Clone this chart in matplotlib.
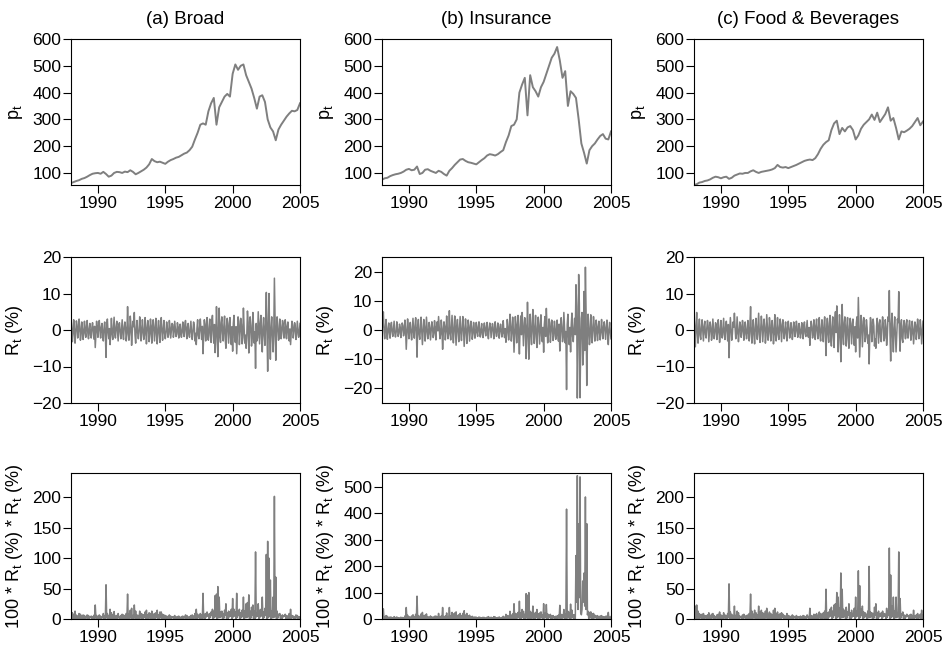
# -*- coding: utf-8 -*-
"""
Prices, returns and squared returns for three sector indices, 1988-2005
"""
import numpy as np
import matplotlib
matplotlib.use("Agg")
from matplotlib import pyplot as plt

plt.rcParams["font.family"] = ["Liberation Sans", "DejaVu Sans"]
plt.rcParams["mathtext.fontset"] = "custom"
plt.rcParams["mathtext.rm"] = "Liberation Sans"
plt.rcParams["mathtext.it"] = "Liberation Sans:italic"

first_year = 1988.0
last_year = 2005.0

titles = ["(a) Broad", "(b) Insurance", "(c) Food & Beverages"]

# price levels, read every 0.2 years
price_broad = [
    62, 66, 70, 73, 78, 81, 86, 92, 97, 99,
    100, 97, 104, 96, 86, 90, 100, 104, 103, 100,
    105, 103, 110, 104, 95, 100, 106, 112, 120, 132,
    152, 144, 140, 142, 138, 134, 142, 148, 152, 157,
    160, 166, 172, 176, 185, 198, 225, 250, 280, 285,
    280, 330, 360, 380, 280, 345, 365, 385, 395, 385,
    470, 505, 485, 500, 505, 465, 440, 415, 380, 340,
    385, 390, 365, 300, 270, 255, 222, 262, 280, 295,
    310, 322, 332, 330, 335, 360]
price_insurance = [
    75, 80, 82, 88, 92, 95, 97, 100, 105, 112,
    115, 110, 112, 124, 96, 100, 112, 114, 108, 104,
    100, 108, 104, 96, 90, 108, 118, 130, 140, 150,
    152, 145, 140, 138, 135, 132, 140, 148, 155, 165,
    170, 168, 165, 170, 178, 185, 215, 240, 275, 280,
    300, 400, 430, 455, 315, 465, 420, 405, 385, 420,
    440, 470, 500, 530, 545, 570, 520, 455, 480, 350,
    405, 395, 380, 300, 210, 175, 135, 185, 200, 210,
    225, 238, 245, 228, 225, 255]
price_food = [
    55, 58, 64, 66, 70, 72, 76, 82, 86, 84,
    80, 84, 86, 78, 82, 90, 94, 98, 97, 100,
    100, 106, 110, 104, 100, 104, 106, 108, 110, 113,
    118, 130, 122, 120, 122, 118, 122, 126, 130, 135,
    140, 145, 148, 150, 148, 155, 170, 190, 205, 215,
    222, 260, 285, 295, 245, 268, 255, 270, 275, 260,
    225, 240, 265, 280, 290, 300, 318, 298, 325, 290,
    305, 320, 345, 295, 305, 268, 225, 255, 252, 258,
    265, 275, 290, 305, 278, 292]

# returns in %, read every 0.05 years (one row per year)
ret_broad = [
    3.5, 0.6, -3.2, -1.1, 2.8, 0.3, -3.6, -0.8, 2.5, 1.4, -2.2, -0.4, 3.0, 0.9, -2.8, -1.3, 2.2, 0.2, -2.6, -0.7,
    2.4, -0.5, -2.0, 1.2, 2.6, -0.9, -2.4, 0.4, 1.8, -1.5, -2.2, 0.7, 2.0, -0.2, -2.5, 1.0, -4.8, -1.2, 2.4, 0.5,
    -2.0, 1.1, 2.6, -0.3, -2.2, 0.8, 1.8, -1.4, -3.0, 0.5, 2.2, -0.9, -7.5, 1.3, 3.0, -0.6, -2.4, 0.4, -4.0, -1.0,
    3.2, -0.8, -2.6, 0.5, 3.5, -1.2, -2.2, 0.9, 2.4, -0.3, -3.0, 1.5, 2.0, -0.7, -2.4, 0.2, 2.8, -1.1, -2.6, 0.8,
    2.2, 0.6, -3.0, -1.1, 6.4, 0.3, -2.8, -0.8, 3.8, 1.4, -4.2, -0.4, 2.4, 0.9, 4.8, -1.3, -3.6, 0.2, 2.6, -0.7,
    -2.4, -0.5, 3.6, 1.2, -3.0, -0.9, 2.8, 0.4, -2.6, -1.5, 3.4, 0.7, -3.8, -0.2, 2.6, 1.0, -3.2, -1.2, 3.0, 0.5,
    -3.6, 1.1, 2.8, -0.3, -3.0, 0.8, 3.2, -1.4, -3.8, 0.5, 2.6, -0.9, -3.4, 1.3, 3.4, -0.6, -2.8, 0.4, 2.6, -1.0,
    -2.4, -0.8, 2.2, 0.5, -2.0, -1.2, 2.6, 0.9, -2.2, -0.3, 1.8, 1.5, -2.0, -0.7, 2.4, 0.2, -1.8, -1.1, 2.0, 0.8,
    -2.2, 0.6, 1.6, -1.1, -2.0, 0.3, 2.2, -0.8, -1.8, 1.4, 2.6, -0.4, -2.4, 0.9, 1.8, -1.3, -2.0, 0.2, 2.4, -0.7,
    -2.6, -0.5, 2.2, 1.2, -3.0, -0.9, -4.0, 0.4, 2.8, -1.5, -2.4, 0.7, 3.0, -0.2, -2.6, 1.0, -6.5, -1.2, 2.8, 0.5,
    -3.0, 1.8, 3.4, -2.2, -2.8, 0.9, 3.0, -1.6, -3.4, 2.4, 4.0, -0.7, -3.6, 1.5, -6.2, -2.0, 6.4, 0.6, -7.3, -1.4,
    6.0, -1.5, -3.4, 2.0, 3.6, -0.8, -3.0, 1.2, 3.8, -2.4, -5.0, 1.0, 3.2, -0.5, -3.6, 1.8, 3.4, -2.1, -4.0, 0.9,
    -5.8, 1.8, 4.0, -2.2, -3.4, 0.9, -6.5, -1.6, 3.6, 2.4, -4.0, -0.7, 3.2, 1.5, -3.8, -2.0, 6.0, 0.6, -3.6, -1.4,
    -5.0, -1.5, 5.2, 2.0, -6.3, -0.8, 3.6, 1.2, -4.4, -2.4, 4.8, 1.0, -3.6, -0.5, -10.5, 1.8, -3.0, -2.1, 5.0, 0.9,
    -3.8, 1.8, 4.0, -2.2, -6.0, 0.9, 3.4, -1.6, -4.2, 2.4, 10.3, -0.7, -11.3, 1.5, 10.0, -2.0, -8.0, 0.6, 3.6, -1.4,
    -6.0, -1.5, 14.2, 2.0, -8.3, -0.8, 3.6, 1.2, -2.8, -2.4, 3.0, 1.0, -2.4, -0.5, 2.6, 1.8, -2.2, -2.1, 2.8, 0.9,
    -2.4, 0.6, 2.2, -1.1, -3.0, 0.3, -4.0, -0.8, 2.4, 1.4, -2.2, -0.4, 2.0, 0.9, -2.6, -1.3, 2.4, 0.2, -2.0, -0.7,
    1.8]
ret_insurance = [
    4.0, 1.1, 6.2, -0.3, -3.0, 0.8, 3.6, -1.4, -3.2, 0.5, 2.4, -0.9, -2.8, 1.3, 2.6, -0.6, -2.2, 0.4, 3.0, -1.0,
    -2.4, -0.8, 2.8, 0.5, -2.2, -1.2, 2.0, 0.9, -2.6, -0.3, 2.4, 1.5, -2.0, -0.7, 3.4, 0.2, -6.6, -1.1, 3.8, 0.8,
    -3.0, 0.6, 2.6, -1.1, -3.4, 0.3, 4.0, -0.8, -2.8, 1.4, 4.2, -0.4, -9.3, 0.9, 3.6, -1.3, -3.2, 0.2, 4.4, -0.7,
    -5.0, -0.5, 3.6, 1.2, -3.8, -0.9, 4.4, 0.4, -3.0, -1.5, 2.6, 0.7, -3.4, -0.2, 2.8, 1.0, -2.6, -1.2, 3.2, 0.5,
    -3.4, 1.1, 2.8, -0.3, 4.6, 0.8, -3.0, -1.4, 3.4, 0.5, -6.6, -0.9, 2.8, 1.3, -3.4, -0.6, 4.8, 0.4, -3.0, -1.0,
    6.6, -0.8, -3.4, 0.5, 5.0, -1.2, -4.4, 0.9, 4.8, -0.3, -5.2, 1.5, 3.6, -0.7, -4.0, 0.2, 4.6, -1.1, -3.6, 0.8,
    4.6, 0.6, -5.6, -1.1, 3.8, 0.3, -4.6, -0.8, 3.4, 1.4, -3.8, -0.4, 3.0, 0.9, -3.2, -1.3, 2.6, 0.2, -2.8, -0.7,
    2.6, -0.5, -2.2, 1.2, 2.8, -0.9, -2.4, 0.4, 2.2, -1.5, -2.6, 0.7, 2.4, -0.2, -2.0, 1.0, 2.6, -1.2, -3.0, 0.5,
    2.4, 1.1, -2.6, -0.3, 2.2, 0.8, -3.0, -1.4, 2.8, 0.5, -2.2, -0.9, 2.4, 1.3, -2.8, -0.6, 2.0, 0.4, -2.4, -1.0,
    3.2, -0.8, -2.6, 0.5, -4.2, -1.2, 3.6, 0.9, -3.4, -0.3, 5.4, 1.5, -3.8, -0.7, 4.4, 0.2, -7.6, -1.1, 4.6, 0.8,
    -4.4, 1.8, 5.0, -2.2, -8.2, 0.9, 4.8, -1.6, 6.0, 2.4, -5.4, -0.7, 4.2, 1.5, -9.8, -2.0, 9.5, 0.6, -10.0, -1.4,
    5.4, -1.5, -5.0, 2.0, 7.0, -0.8, -4.6, 1.2, 5.0, -2.4, -6.0, 1.0, 4.4, -0.5, -4.8, 1.8, 5.2, -2.1, -4.0, 0.9,
    -7.6, 1.8, 4.6, -2.2, 7.4, 0.9, -4.4, -1.6, 3.8, 2.4, -4.2, -0.7, 3.4, 1.5, -3.6, -2.0, 3.0, 0.6, -3.2, -1.4,
    3.4, -1.5, -3.8, 2.0, -7.2, -0.8, 4.2, 1.2, -4.0, -2.4, 6.0, 1.0, -4.4, -0.5, -20.4, 1.8, 5.4, -2.1, -5.0, 0.9,
    -7.5, 1.8, 5.8, -2.2, -4.0, 0.9, 4.0, -1.6, 15.5, 8.0, -23.3, -6.0, 19.0, 9.0, -23.2, -5.0, 4.0, 6.0, -12.0, -8.0,
    13.2, -7.0, 21.5, 6.0, -19.0, -4.0, 5.4, 1.2, -5.0, -2.4, 5.2, 1.0, -4.4, -0.5, 4.6, 1.8, -3.8, -2.1, 3.4, 0.9,
    -3.6, 0.6, 3.0, -1.1, -3.4, 0.3, 3.6, -0.8, -3.0, 1.4, 2.8, -0.4, -3.2, 0.9, 3.4, -1.3, -5.0, 0.2, 2.6, -0.7,
    -3.0]
ret_food = [
    4.2, -0.5, -4.6, 1.2, 4.8, -0.9, -3.6, 0.4, 3.0, -1.5, -2.6, 0.7, 2.8, -0.2, -3.0, 1.0, 2.4, -1.2, -2.2, 0.5,
    2.6, 1.1, -3.2, -0.3, 2.2, 0.8, -2.8, -1.4, 3.0, 0.5, -2.4, -0.9, 2.0, 1.3, -2.6, -0.6, 2.8, 0.4, -3.4, -1.0,
    2.6, -0.8, -2.2, 0.5, 3.2, -1.2, -2.6, 0.9, 2.4, -0.3, -3.0, 1.5, -7.6, -0.7, 3.4, 0.2, -2.8, -1.1, 2.2, 0.8,
    4.6, 0.6, -2.4, -1.1, 3.6, 0.3, -3.2, -0.8, 2.2, 1.4, -2.0, -0.4, 2.6, 0.9, -2.8, -1.3, 2.2, 0.2, -2.4, -0.7,
    2.6, -0.5, -3.0, 1.2, 6.4, -0.9, -3.6, 0.4, 2.8, -1.5, -3.8, 0.7, 3.2, -0.2, -2.6, 1.0, 4.6, -1.2, -3.4, 0.5,
    3.8, 1.1, -3.2, -0.3, 3.0, 0.8, -3.6, -1.4, 4.2, 0.5, -2.8, -0.9, 3.4, 1.3, -3.0, -0.6, 2.6, 0.4, -3.8, -1.0,
    4.2, -0.8, -3.0, 0.5, 3.4, -1.2, -2.6, 0.9, 3.0, -0.3, -3.2, 1.5, 2.8, -0.7, -2.4, 0.2, 2.2, -1.1, -3.0, 0.8,
    2.4, 0.6, -2.2, -1.1, 2.0, 0.3, -2.6, -0.8, 2.2, 1.4, -1.8, -0.4, 2.4, 0.9, -2.0, -1.3, 1.8, 0.2, -2.2, -0.7,
    2.0, -0.5, -2.4, 1.2, 2.2, -0.9, -1.8, 0.4, 2.6, -1.5, -2.0, 0.7, -4.2, -0.2, 2.4, 1.0, -2.2, -1.2, 2.8, 0.5,
    -2.6, 1.1, 3.0, -0.3, -2.4, 0.8, 3.4, -1.4, -3.0, 0.5, 2.8, -0.9, -3.2, 1.3, 3.6, -0.6, -7.0, 0.4, 3.2, -1.0,
    -3.4, 1.8, 4.0, -2.2, -4.4, 0.9, 3.6, -1.6, -4.8, 2.4, 5.0, -0.7, 6.6, 1.5, -6.0, -2.0, 4.2, 0.6, -8.7, -1.4,
    7.0, -1.5, -4.0, 2.0, 3.6, -0.8, -4.4, 1.2, 3.4, -2.4, -5.0, 1.0, 3.2, -0.5, -3.8, 1.8, 3.0, -2.1, -4.2, 0.9,
    -6.0, 1.8, 3.6, -2.2, 8.9, 0.9, -7.4, -1.6, 4.0, 2.4, -4.6, -0.7, 3.4, 1.5, -3.2, -2.0, 2.8, 0.6, -3.6, -1.4,
    -9.3, -1.5, 3.4, 2.0, -3.2, -0.8, 3.0, 1.2, -4.4, -2.4, -5.0, 1.0, 3.2, -0.5, -3.6, 1.8, 2.8, -2.1, -3.2, 0.9,
    3.6, 1.8, -3.0, -2.2, 2.8, 0.9, -4.2, -1.6, 3.6, 2.4, 10.8, -0.7, -8.5, 1.5, 4.6, -2.0, -6.0, 0.6, 3.6, -1.4,
    -6.0, -1.5, 3.0, 2.0, 10.5, -0.8, -5.8, 1.2, 2.8, -2.4, -3.4, 1.0, 2.6, -0.5, -2.4, 1.8, 2.8, -2.1, -2.2, 0.9,
    2.6, 0.6, -2.8, -1.1, 2.4, 0.3, -3.8, -0.8, 2.2, 1.4, -2.6, -0.4, 3.0, 0.9, -2.4, -1.3, 2.8, 0.2, -3.8, -0.7,
    2.4]

prices = [price_broad, price_insurance, price_food]
returns = [ret_broad, ret_insurance, ret_food]

year_ticks = [1990, 1995, 2000, 2005]
price_ticks = [100, 200, 300, 400, 500, 600]
price_ylim = (55, 600)
ret_ticks = [[-20, -10, 0, 10, 20]] * 3
ret_ylims = [(-20, 20), (-25, 25), (-20, 20)]
sq_ticks = [[0, 50, 100, 150, 200], [0, 100, 200, 300, 400, 500],
            [0, 50, 100, 150, 200]]
sq_ylims = [(0, 240), (0, 553), (0, 240)]

LINE = "#7f7f7f"
W, H = 945, 647
col_left = [71, 382, 694]
col_width = 229
row_top = [39, 257, 473]
row_height = 146
FS = 12.5


def style_axis(ax, yticks, ylim, ylabel):
    ax.set_xlim(first_year, last_year)
    ax.set_ylim(*ylim)
    ax.set_xticks(year_ticks)
    ax.set_yticks(yticks)
    ax.tick_params(direction="out", length=6, width=0.8, labelsize=FS,
                   colors="black")
    ax.tick_params(axis="y", pad=1)
    ax.tick_params(axis="x", pad=2)
    for s in ax.spines.values():
        s.set_linewidth(0.8)
    ax.set_ylabel(ylabel, fontsize=13)
    ax.yaxis.set_label_coords(-0.2, 0.5)


def main():
    fig = plt.figure(figsize=(W / 100, H / 100), dpi=100)

    for c in range(3):
        p = np.array(prices[c], dtype=float)
        r = np.array(returns[c], dtype=float)
        t_p = np.linspace(first_year, last_year, len(p))
        t_r = np.linspace(first_year, last_year, len(r))

        axes = []
        for row in range(3):
            ax = fig.add_axes([col_left[c] / W,
                               1 - (row_top[row] + row_height) / H,
                               col_width / W, row_height / H])
            axes.append(ax)

        ax = axes[0]
        ax.plot(t_p, p, color=LINE, lw=1.4)
        style_axis(ax, price_ticks, price_ylim, r"$\mathregular{p_t}$")
        ax.set_title(titles[c], fontsize=13.5, pad=11)

        ax = axes[1]
        ax.plot(t_r, r, color=LINE, lw=1.1)
        style_axis(ax, ret_ticks[c], ret_ylims[c], r"$\mathregular{R_t}$ (%)")

        ax = axes[2]
        ax.plot(t_r, r * r, color=LINE, lw=1.1)
        style_axis(ax, sq_ticks[c], sq_ylims[c],
                   r"100 * $\mathregular{R_t}$ (%) * $\mathregular{R_t}$ (%)")

    fig.savefig("out.png", dpi=100)


if __name__ == "__main__":
    main()
